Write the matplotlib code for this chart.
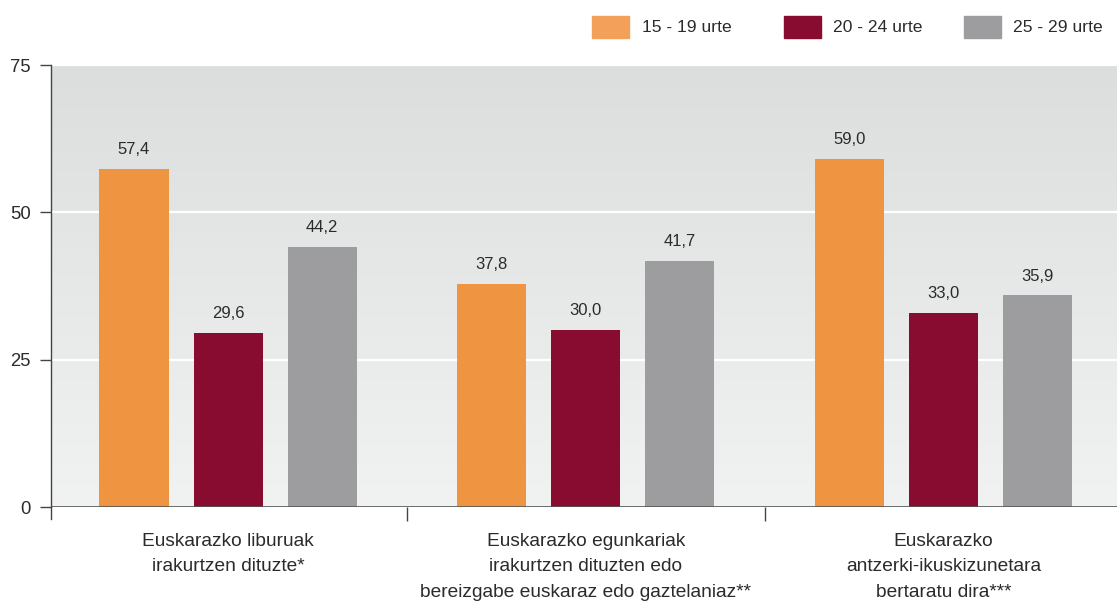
import numpy as np
import matplotlib
matplotlib.use("Agg")
import matplotlib.pyplot as plt
from matplotlib.patches import Rectangle
from matplotlib.colors import LinearSegmentedColormap

plt.rcParams['font.family'] = ['Liberation Sans', 'DejaVu Sans']

categories = ["Euskarazko liburuak\nirakurtzen dituzte*",
              "Euskarazko egunkariak\nirakurtzen dituzten edo\nbereizgabe euskaraz edo gaztelaniaz**",
              "Euskarazko\nantzerki-ikuskizunetara\nbertaratu dira***"]
series_names = ["15 - 19 urte", "20 - 24 urte", "25 - 29 urte"]
v15_19 = [57.4, 37.8, 59.0]
v20_24 = [29.6, 30.0, 33.0]
v25_29 = [44.2, 41.7, 35.9]
yticks = [0, 25, 50, 75]

bar_colors = ["#ef9441", "#870c30", "#9d9d9f"]
legend_colors = ["#f3a15a", "#870c30", "#9d9d9f"]
text_color = "#2b2b2b"

fig = plt.figure(figsize=(11.17, 6.03), dpi=100)
W, H = 1117, 603
ax = fig.add_axes([51 / W, 1 - 507 / H, (W - 51) / W, (507 - 65) / H])

xlim = (-0.495, 2.485)
ax.set_xlim(*xlim)
ax.set_ylim(0, 75)

# gradient background
cmap = LinearSegmentedColormap.from_list("bg", ["#f1f2f2", "#dcdddd"])
grad = np.linspace(0, 1, 256).reshape(-1, 1)
ax.imshow(grad, aspect="auto", cmap=cmap, origin="lower",
          extent=[xlim[0], xlim[1], 0, 75], zorder=0)

for y in [25, 50, 75]:
    ax.axhline(y, color="white", lw=1.6, zorder=1)

x = np.arange(len(categories))
bw = 0.193
step = 0.263
for i, (vals, col) in enumerate(zip([v15_19, v20_24, v25_29], bar_colors)):
    xs = x + (i - 1) * step
    ax.bar(xs, vals, width=bw, color=col, zorder=2, linewidth=0)
    for xx, v in zip(xs, vals):
        ax.annotate(f"{v:.1f}".replace(".", ","), (xx, v), xytext=(0, 8.5),
                    textcoords="offset points", ha="center", va="bottom",
                    fontsize=12, color=text_color, zorder=3)

ax.axhline(0, color="#555555", lw=1.2, zorder=3)

for s in ["top", "right", "bottom"]:
    ax.spines[s].set_visible(False)
ax.spines["left"].set_color("#444444")
ax.spines["left"].set_linewidth(1.0)
ax.spines["left"].set_bounds(0, 75)
ax.spines["left"].set_zorder(4)
# extend left spine below zero
ax.plot([xlim[0], xlim[0]], [0, -12 / 5.893], color="#444444", lw=1.0,
        clip_on=False, zorder=4)

ax.set_yticks(yticks)
ax.set_yticklabels([str(t) for t in yticks])
ax.tick_params(axis="y", length=8, width=1.0, color="#444444", pad=6.5,
               labelsize=13.3, labelcolor=text_color)

ax.set_xticks(x)
ax.set_xticklabels(categories, fontsize=13.8, color=text_color, linespacing=1.62)
ax.tick_params(axis="x", length=0, pad=19)
ax.set_xticks([0.5, 1.5], minor=True)
ax.tick_params(axis="x", which="minor", length=10, width=1.0, color="#444444")

# legend
leg_items = [(592, 642), (784, 833), (964, 1013)]
for (px, tx), name, col in zip(leg_items, series_names, legend_colors):
    fig.patches.append(Rectangle((px / W, 1 - 38 / H), 37 / W, 22 / H,
                                 transform=fig.transFigure, color=col,
                                 figure=fig))
    fig.text(tx / W, 1 - 28 / H, name, ha="left", va="center",
             fontsize=12.6, color=text_color)

fig.savefig("out.png", dpi=100)
